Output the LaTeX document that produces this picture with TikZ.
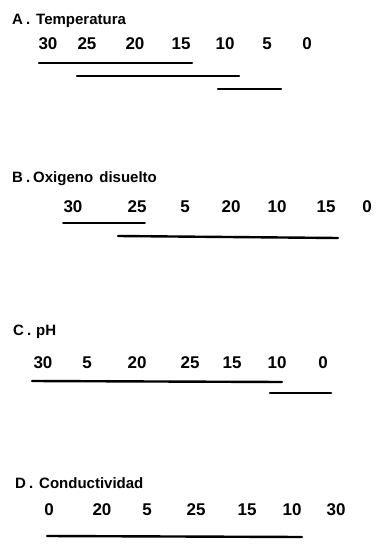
\documentclass[tikz,border=0pt]{standalone}
\usepackage{fontspec}
\setmainfont{Liberation Sans}
\begin{document}
\begin{tikzpicture}[x=1pt,y=-1pt,
  lbl/.style={anchor=base west,inner sep=0pt,font=\bfseries\fontsize{15}{15}\selectfont},
  num/.style={anchor=base,inner sep=0pt,font=\bfseries\fontsize{17}{17}\selectfont},
  bar/.style={line width=2.4pt,line cap=round},
  thinbar/.style={line width=1.6pt,line cap=round}]
\useasboundingbox[fill=white] (0,0) rectangle (375,548);
% A
\node[lbl] (la) at (12,24.5) {A\kern3pt.\kern6pt Temperatura};
\foreach \n/\x [count=\i] in {30/48,25/87,20/135,15/181,10/225,5/267,0/307}
  \node[num] (a\i) at (\x,49.5) {\n};
\draw[bar] (39,63) -- (192,63);
\draw[bar] (77,76) -- (239,76);
\draw[bar] (218,89) -- (281,89);
% B
\node[lbl] (lb) at (12,182.5) {B\kern3pt.\kern3pt Oxigeno\kern2pt\ disuelto};
\foreach \n/\x [count=\i] in {30/73,25/137,5/185,20/231,10/277,15/326,0/367}
  \node[num] (b\i) at (\x,212.5) {\n};
\draw[thinbar] (63,223) -- (145,223);
\draw[bar] (118,236) -- (338,238);
% C
\node[lbl] (lc) at (13,335.5) {C\kern3pt.\kern5pt pH};
\foreach \n/\x [count=\i] in {30/43,5/87,20/137,25/190,15/232,10/277,0/323}
  \node[num] (c\i) at (\x,368.5) {\n};
\draw[bar] (32,381) -- (282,382);
\draw[bar] (270,393) -- (331,393);
% D
\node[lbl] (ld) at (15,488.5) {D\kern3pt.\kern6pt Conductividad};
\foreach \n/\x [count=\i] in {0/49,20/102,5/147,25/196,15/247,10/292,30/336}
  \node[num] (d\i) at (\x,515.5) {\n};
\draw[bar] (47,536) -- (302,537);
\end{tikzpicture}
\end{document}
